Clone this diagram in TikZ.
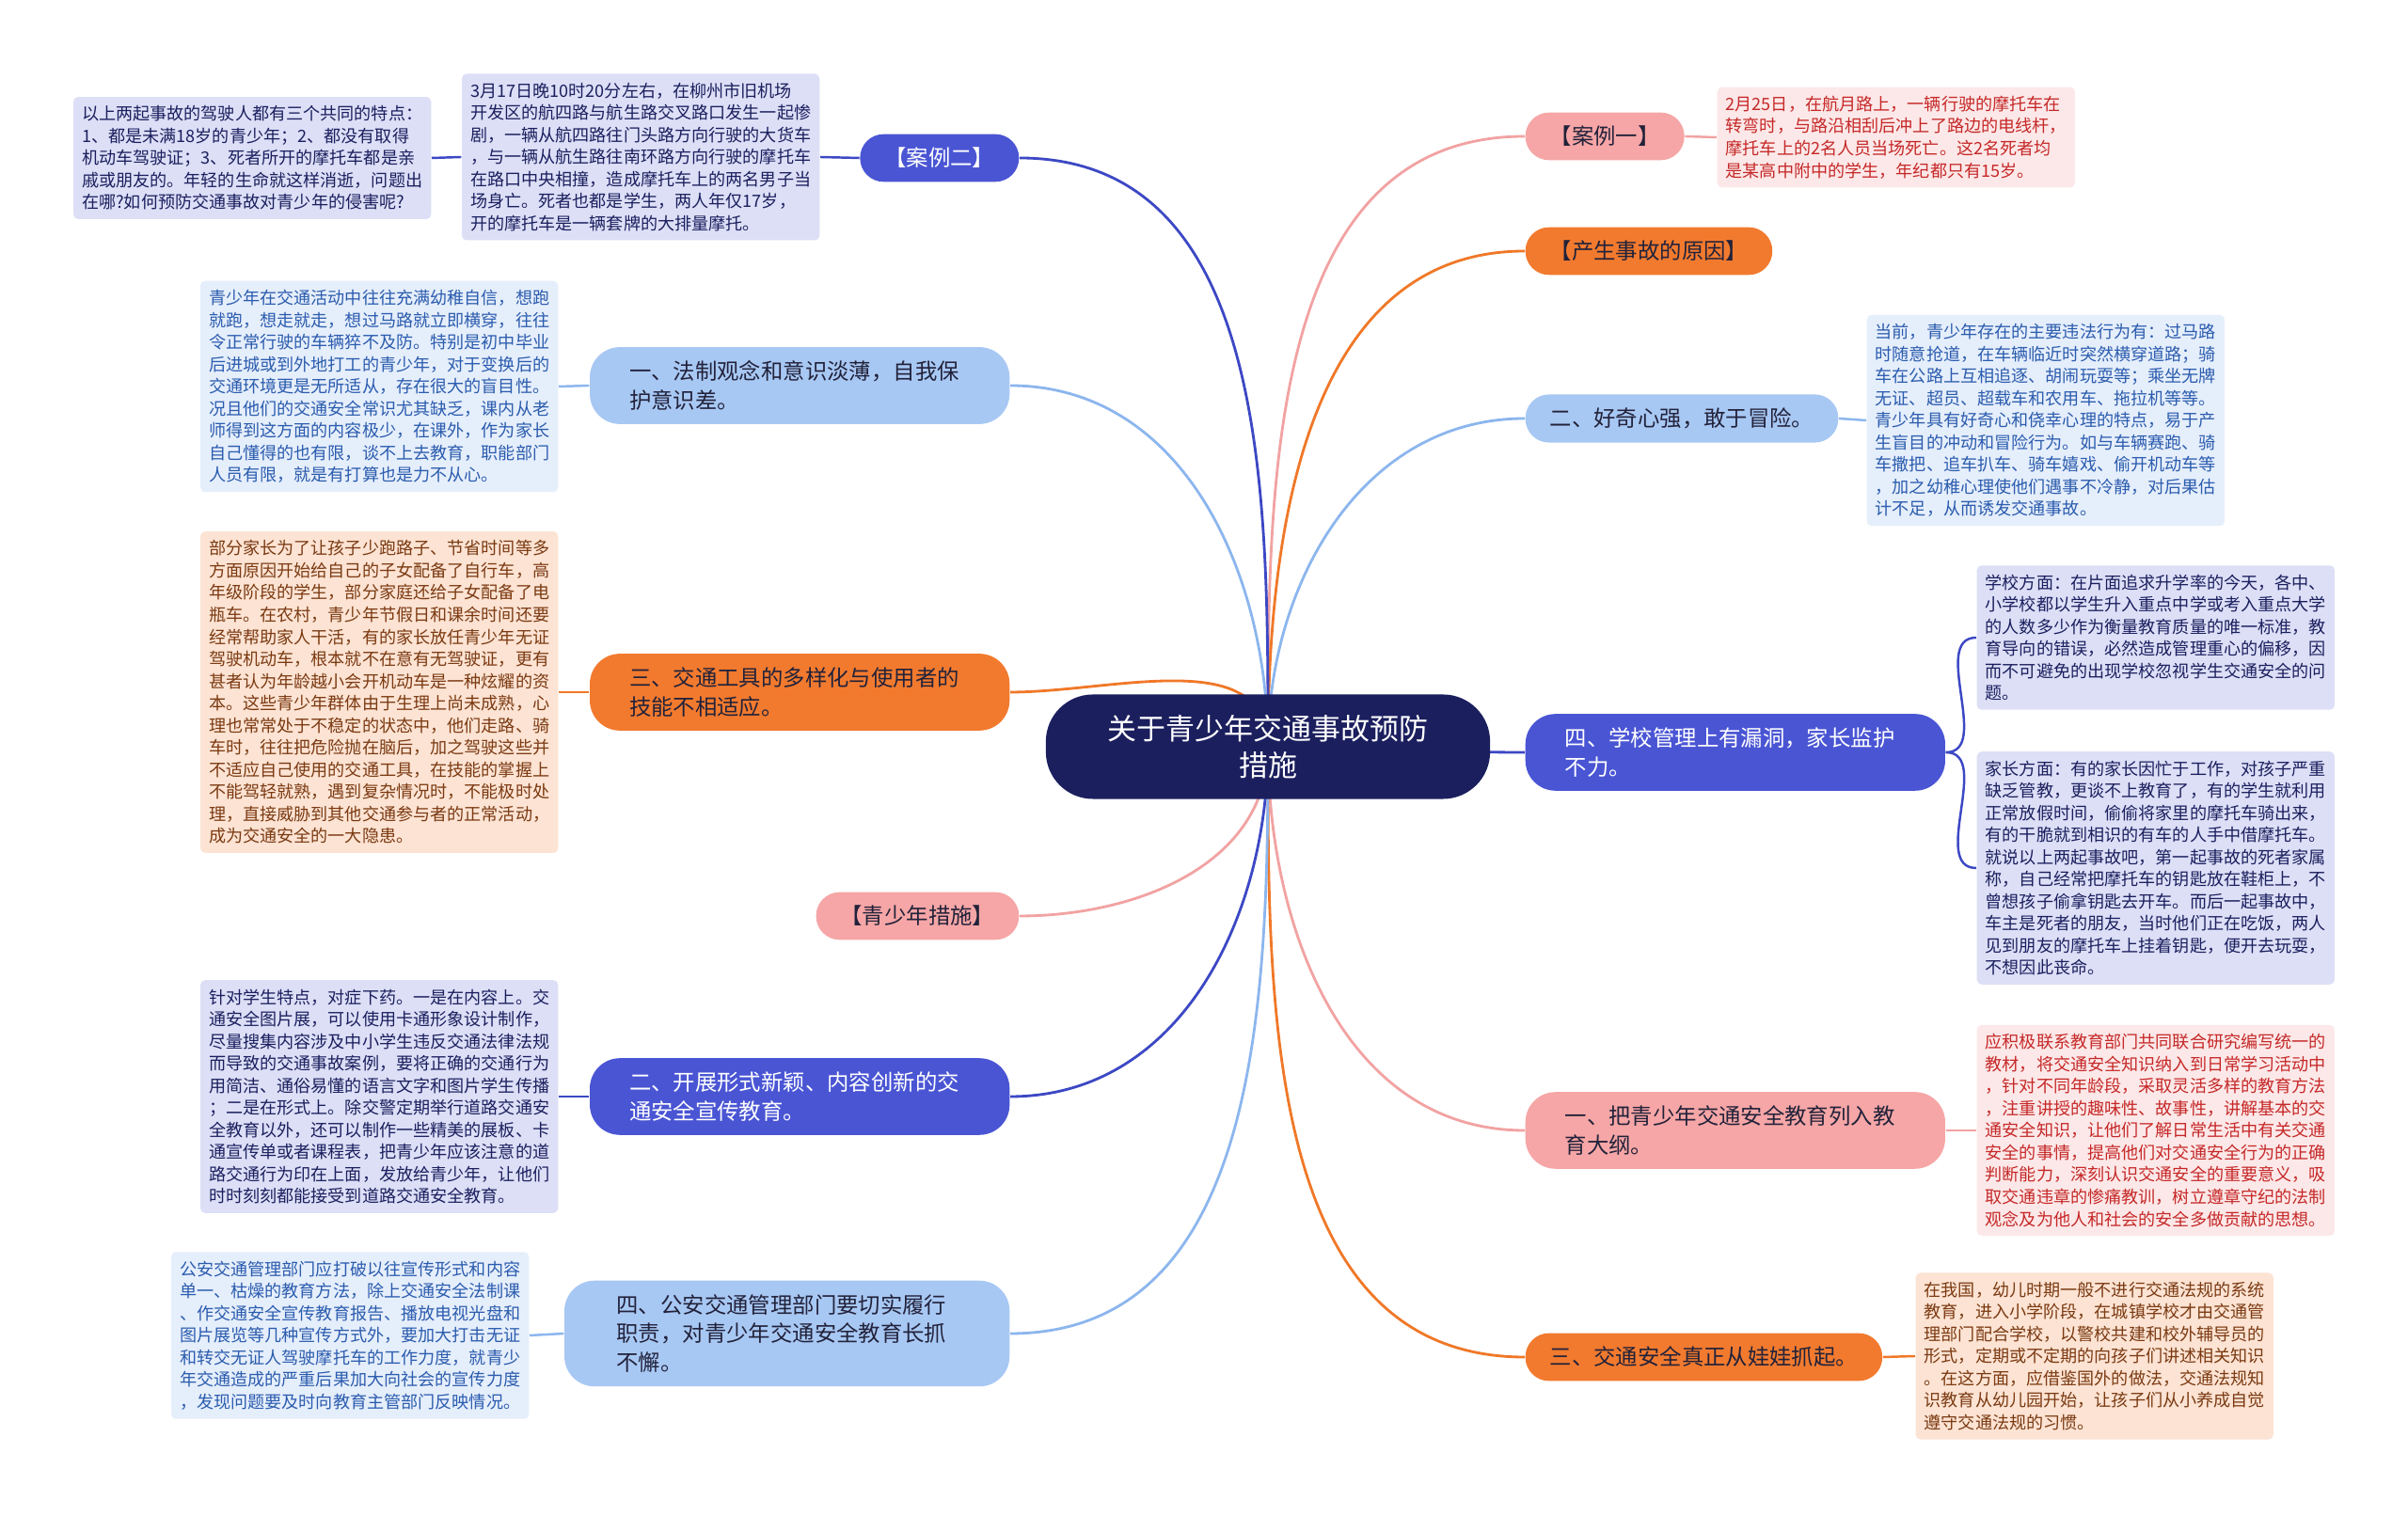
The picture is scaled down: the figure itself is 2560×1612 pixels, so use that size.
\documentclass[tikz,border=0pt]{standalone}
\usepackage{fontspec}
\setmainfont{Noto Sans CJK SC}
\usepackage{tikz}
\usetikzlibrary{backgrounds}
\definecolor{rootnavy}{HTML}{1B1F5E}
\definecolor{brviolet}{HTML}{4A55D4}
\definecolor{brsky}{HTML}{A8C8F4}
\definecolor{brorange}{HTML}{F27A2E}
\definecolor{brpink}{HTML}{F6A6A6}
\definecolor{bxlav}{HTML}{DCDFF6}
\definecolor{bxsky}{HTML}{E5EEFB}
\definecolor{bxpeach}{HTML}{FCE3D3}
\definecolor{bxpink}{HTML}{FCE8E8}
\definecolor{txnavy}{HTML}{1B1F5E}
\definecolor{txblue}{HTML}{2B5CAE}
\definecolor{txbrown}{HTML}{7B3A12}
\definecolor{txred}{HTML}{C62828}
\definecolor{txdark}{HTML}{22223A}
\definecolor{lnviolet}{HTML}{3C48C4}
\definecolor{lnsky}{HTML}{8CB6EE}
\definecolor{lnorange}{HTML}{F07828}
\definecolor{lnpink}{HTML}{F2A2A2}
\tikzset{
  rootbox/.style  = {rounded corners=0.5cm, fill=rootnavy, text=white,
                     minimum width=4.72cm, minimum height=1.11cm, align=center,
                     font=\fontsize{8.8}{11}\selectfont},
  pill/.style     = {rounded corners=0.25cm, inner xsep=0.26cm, inner ysep=4.1pt,
                     text=txdark, font=\fontsize{6.65}{8.8}\selectfont},
  widepill/.style = {pill, rounded corners=0.32cm, text width=3.62cm,
                     inner xsep=0.42cm, align=left},
  pviolet/.style  = {fill=brviolet, text=white},
  psky/.style     = {fill=brsky},
  porange/.style  = {fill=brorange},
  ppink/.style    = {fill=brpink},
  detail/.style   = {rounded corners=0.05cm, inner xsep=0.09cm, inner ysep=2.7pt,
                     text width=3.62cm, align=left,
                     font=\fontsize{5.15}{6.69}\selectfont},
  dlav/.style     = {detail, fill=bxlav, text=txnavy},
  dsky/.style     = {detail, fill=bxsky, text=txblue},
  dpeach/.style   = {detail, fill=bxpeach, text=txbrown},
  dpink/.style    = {detail, fill=bxpink, text=txred},
  branch/.style   = {line width=0.8pt},
  leaf/.style     = {line width=0.7pt},
}

\begin{document}
\begin{tikzpicture}[x=0.01cm, y=0.01cm]
  \useasboundingbox (0,0) rectangle (2560,1612);
  \begin{scope}[on background layer]
    \fill[white] (0,0) rectangle (2560,1612);
  \end{scope}

  \node[rootbox] (root) at (1348,818) {关于青少年交通事故预防\\措施};

  % right side
  \node[pill, ppink, anchor=west] (anli1) at (1621,1467) {【案例一】};
  \node[pill, porange, anchor=west] (yuanyin) at (1621,1345) {【产生事故的原因】};
  \node[pill, psky, anchor=west] (haoqi) at (1621,1167) {二、好奇心强，敢于冒险。};
  \node[widepill, pviolet, anchor=west] (guanli) at (1621,812)
    {四、学校管理上有漏洞，家长监护\\不力。};
  \node[widepill, ppink, anchor=west] (dagang) at (1621,410)
    {一、把青少年交通安全教育列入教\\育大纲。};
  \node[pill, porange, anchor=west] (wawa) at (1621,169) {三、交通安全真正从娃娃抓起。};

  \node[dpink, anchor=west] (anli1txt) at (1825,1466)
    {2月25日，在航月路上，一辆行驶的摩托车在\\
     转弯时，与路沿相刮后冲上了路边的电线杆，\\
     摩托车上的2名人员当场死亡。这2名死者均\\
     是某高中附中的学生，年纪都只有15岁。};
  \node[dsky, anchor=west] (haoqitxt) at (1984,1165)
    {当前，青少年存在的主要违法行为有：过马路\\
     时随意抢道，在车辆临近时突然横穿道路；骑\\
     车在公路上互相追逐、胡闹玩耍等；乘坐无牌\\
     无证、超员、超载车和农用车、拖拉机等等。\\
     青少年具有好奇心和侥幸心理的特点，易于产\\
     生盲目的冲动和冒险行为。如与车辆赛跑、骑\\
     车撒把、追车扒车、骑车嬉戏、偷开机动车等\\
     ，加之幼稚心理使他们遇事不冷静，对后果估\\
     计不足，从而诱发交通事故。};
  \node[dlav, anchor=west] (xuexiao) at (2101,934)
    {学校方面：在片面追求升学率的今天，各中、\\
     小学校都以学生升入重点中学或考入重点大学\\
     的人数多少作为衡量教育质量的唯一标准，教\\
     育导向的错误，必然造成管理重心的偏移，因\\
     而不可避免的出现学校忽视学生交通安全的问\\
     题。};
  \node[dlav, anchor=west] (jiazhang) at (2101,689)
    {家长方面：有的家长因忙于工作，对孩子严重\\
     缺乏管教，更谈不上教育了，有的学生就利用\\
     正常放假时间，偷偷将家里的摩托车骑出来，\\
     有的干脆就到相识的有车的人手中借摩托车。\\
     就说以上两起事故吧，第一起事故的死者家属\\
     称，自己经常把摩托车的钥匙放在鞋柜上，不\\
     曾想孩子偷拿钥匙去开车。而后一起事故中，\\
     车主是死者的朋友，当时他们正在吃饭，两人\\
     见到朋友的摩托车上挂着钥匙，便开去玩耍，\\
     不想因此丧命。};
  \node[dpink, anchor=west] (dagangtxt) at (2101,410)
    {应积极联系教育部门共同联合研究编写统一的\\
     教材，将交通安全知识纳入到日常学习活动中\\
     ，针对不同年龄段，采取灵活多样的教育方法\\
     ，注重讲授的趣味性、故事性，讲解基本的交\\
     通安全知识，让他们了解日常生活中有关交通\\
     安全的事情，提高他们对交通安全行为的正确\\
     判断能力，深刻认识交通安全的重要意义，吸\\
     取交通违章的惨痛教训，树立遵章守纪的法制\\
     观念及为他人和社会的安全多做贡献的思想。};
  \node[dpeach, anchor=west] (wawatxt) at (2036,170)
    {在我国，幼儿时期一般不进行交通法规的系统\\
     教育，进入小学阶段，在城镇学校才由交通管\\
     理部门配合学校，以警校共建和校外辅导员的\\
     形式，定期或不定期的向孩子们讲述相关知识\\
     。在这方面，应借鉴国外的做法，交通法规知\\
     识教育从幼儿园开始，让孩子们从小养成自觉\\
     遵守交通法规的习惯。};

  % left side
  \node[pill, pviolet, anchor=east] (anli2) at (1084,1444) {【案例二】};
  \node[widepill, psky, anchor=east] (fazhi) at (1074,1202)
    {一、法制观念和意识淡薄，自我保\\护意识差。};
  \node[widepill, porange, anchor=east] (gongju) at (1074,876)
    {三、交通工具的多样化与使用者的\\技能不相适应。};
  \node[pill, ppink, anchor=east] (cuoshi) at (1084,638) {【青少年措施】};
  \node[widepill, pviolet, anchor=east] (xuanchuan) at (1074,446)
    {二、开展形式新颖、内容创新的交\\通安全宣传教育。};
  \node[widepill, psky, inner xsep=0.555cm, anchor=east] (gongan) at (1074,194)
    {四、公安交通管理部门要切实履行\\职责，对青少年交通安全教育长抓\\不懈。};

  \node[dlav, anchor=east] (anli2txt) at (872,1445)
    {3月17日晚10时20分左右，在柳州市旧机场\\
     开发区的航四路与航生路交叉路口发生一起惨\\
     剧，一辆从航四路往门头路方向行驶的大货车\\
     ，与一辆从航生路往南环路方向行驶的摩托车\\
     在路口中央相撞，造成摩托车上的两名男子当\\
     场身亡。死者也都是学生，两人年仅17岁，\\
     开的摩托车是一辆套牌的大排量摩托。};
  \node[dlav, anchor=east] (gongtong) at (459,1444)
    {以上两起事故的驾驶人都有三个共同的特点：\\
     1、都是未满18岁的青少年；2、都没有取得\\
     机动车驾驶证；3、死者所开的摩托车都是亲\\
     戚或朋友的。年轻的生命就这样消逝，问题出\\
     在哪?如何预防交通事故对青少年的侵害呢?};
  \node[dsky, anchor=east] (fazhitxt) at (594,1201)
    {青少年在交通活动中往往充满幼稚自信，想跑\\
     就跑，想走就走，想过马路就立即横穿，往往\\
     令正常行驶的车辆猝不及防。特别是初中毕业\\
     后进城或到外地打工的青少年，对于变换后的\\
     交通环境更是无所适从，存在很大的盲目性。\\
     况且他们的交通安全常识尤其缺乏，课内从老\\
     师得到这方面的内容极少，在课外，作为家长\\
     自己懂得的也有限，谈不上去教育，职能部门\\
     人员有限，就是有打算也是力不从心。};
  \node[dpeach, anchor=east] (gongjutxt) at (594,876)
    {部分家长为了让孩子少跑路子、节省时间等多\\
     方面原因开始给自己的子女配备了自行车，高\\
     年级阶段的学生，部分家庭还给子女配备了电\\
     瓶车。在农村，青少年节假日和课余时间还要\\
     经常帮助家人干活，有的家长放任青少年无证\\
     驾驶机动车，根本就不在意有无驾驶证，更有\\
     甚者认为年龄越小会开机动车是一种炫耀的资\\
     本。这些青少年群体由于生理上尚未成熟，心\\
     理也常常处于不稳定的状态中，他们走路、骑\\
     车时，往往把危险抛在脑后，加之驾驶这些并\\
     不适应自己使用的交通工具，在技能的掌握上\\
     不能驾轻就熟，遇到复杂情况时，不能极时处\\
     理，直接威胁到其他交通参与者的正常活动，\\
     成为交通安全的一大隐患。};
  \node[dlav, anchor=east] (xuanchuantxt) at (594,446)
    {针对学生特点，对症下药。一是在内容上。交\\
     通安全图片展，可以使用卡通形象设计制作，\\
     尽量搜集内容涉及中小学生违反交通法律法规\\
     而导致的交通事故案例，要将正确的交通行为\\
     用简洁、通俗易懂的语言文字和图片学生传播\\
     ；二是在形式上。除交警定期举行道路交通安\\
     全教育以外，还可以制作一些精美的展板、卡\\
     通宣传单或者课程表，把青少年应该注意的道\\
     路交通行为印在上面，发放给青少年，让他们\\
     时时刻刻都能接受到道路交通安全教育。};
  \node[dsky, anchor=east] (gongantxt) at (563,192)
    {公安交通管理部门应打破以往宣传形式和内容\\
     单一、枯燥的教育方法，除上交通安全法制课\\
     、作交通安全宣传教育报告、播放电视光盘和\\
     图片展览等几种宣传方式外，要加大打击无证\\
     和转交无证人驾驶摩托车的工作力度，就青少\\
     年交通造成的严重后果加大向社会的宣传力度\\
     ，发现问题要及时向教育主管部门反映情况。};

  \begin{scope}[on background layer]
    % root to branches
    \draw[branch, lnpink] (root.center) to[out=90, in=180] (anli1.west);
    \draw[branch, lnorange] (root.center) to[out=90, in=180] (yuanyin.west);
    \draw[branch, lnsky] (root.center) to[out=90, in=180] (haoqi.west);
    \draw[branch, lnviolet] (root.center) to[out=0, in=180] (guanli.west);
    \draw[branch, lnpink] (root.center) to[out=-90, in=180] (dagang.west);
    \draw[branch, lnorange] (root.center) to[out=-90, in=180] (wawa.west);
    \draw[branch, lnviolet] (root.center) to[out=90, in=0] (anli2.east);
    \draw[branch, lnsky] (root.center) to[out=90, in=0] (fazhi.east);
    \draw[branch, lnorange] (root.center) to[out=90, in=0] (gongju.east);
    \draw[branch, lnpink] (root.center) to[out=-90, in=0] (cuoshi.east);
    \draw[branch, lnviolet] (root.center) to[out=-90, in=0] (xuanchuan.east);
    \draw[branch, lnsky] (root.center) to[out=-90, in=0] (gongan.east);
    % branches to texts
    \draw[leaf, lnpink] (anli1.east) -- (anli1txt.west);
    \draw[leaf, lnsky] (haoqi.east) -- (haoqitxt.west);
    \draw[leaf, lnviolet] (guanli.east) to[out=0, in=180] (xuexiao.west);
    \draw[leaf, lnviolet] (guanli.east) to[out=0, in=180] (jiazhang.west);
    \draw[leaf, lnpink] (dagang.east) -- (dagangtxt.west);
    \draw[leaf, lnorange] (wawa.east) -- (wawatxt.west);
    \draw[leaf, lnviolet] (anli2.west) -- (anli2txt.east);
    \draw[leaf, lnviolet] (anli2txt.west) -- (gongtong.east);
    \draw[leaf, lnsky] (fazhi.west) -- (fazhitxt.east);
    \draw[leaf, lnorange] (gongju.west) -- (gongjutxt.east);
    \draw[leaf, lnviolet] (xuanchuan.west) -- (xuanchuantxt.east);
    \draw[leaf, lnsky] (gongan.west) -- (gongantxt.east);
  \end{scope}
\end{tikzpicture}
\end{document}
